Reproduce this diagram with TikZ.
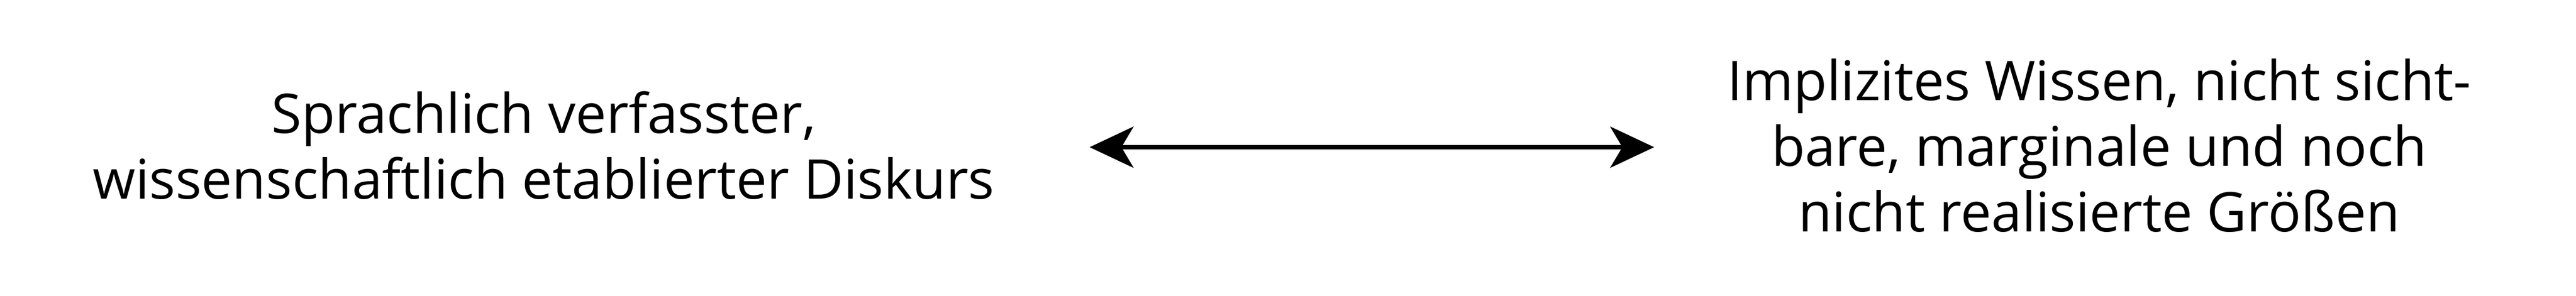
\documentclass[tikz,border=0pt]{standalone}
\usepackage{fontspec}
\setmainfont{Open Sans}
\usepackage{tikz}
\usetikzlibrary{arrows.meta,positioning}
\tikzset{
textnode/.style = {align=center, inner sep=0pt, text centered,
font=\fontsize{10pt}{12pt}\selectfont},% textblock
dbl_arr/.style = {{Stealth[length=8pt,width=7.5pt,inset=2.2pt]}-{Stealth[length=8pt,width=7.5pt,inset=2.2pt]}, line width=0.8pt}% doppelpfeil
}
\begin{document}
\begin{tikzpicture}[x=1pt,y=1pt]
	\useasboundingbox (0,0) rectangle (470,54);
	\node [textnode] (diskurs) at (99.2,27.4) {Sprachlich verfasster,\\wissenschaftlich etablierter Diskurs};
	\node [textnode] (wissen) at (383,27.4) {Implizites Wissen, nicht sicht-\\bare, marginale und noch\\nicht realisierte Größen};
	\coordinate (pl) at (198.8,27.1);
	\coordinate (pr) at (301.8,27.1);
	\draw [dbl_arr] (pl) -- (pr);
\end{tikzpicture}
\end{document}
